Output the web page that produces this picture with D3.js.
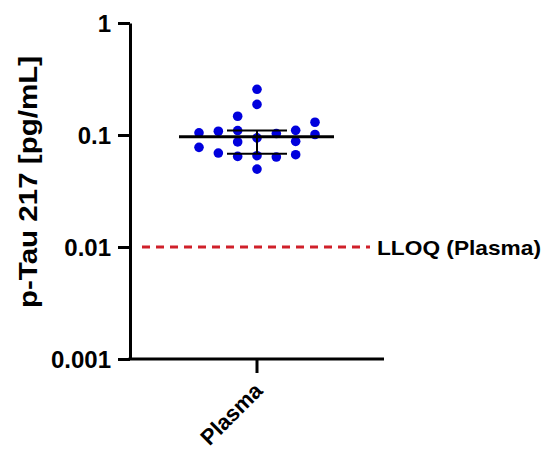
<!DOCTYPE html>
<html>
<head>
<meta charset="utf-8">
<script src="https://cdn.jsdelivr.net/npm/d3@7"></script>
<style>
body { margin: 0; background: #fff; }
text { font-family: Arial, "Liberation Sans", sans-serif; font-weight: bold; fill: #000; }
</style>
</head>
<body>
<script>
(function(){

//data
var category = "Plasma";
var values = [0.256, 0.1875, 0.147, 0.130, 0.1045, 0.108, 0.1096, 0.0942, 0.103, 0.110,
              0.101, 0.0776, 0.0867, 0.0878, 0.069, 0.0644, 0.0653, 0.0636, 0.0667, 0.0496];
//column slot of each point in the scatter (-3..3)
var slots = [0, 0, -1, 3, -3, -2, -1, 0, 1, 2,
             3, -3, -1, 2, -2, -1, 0, 1, 2, 0];
var median = 0.0967, q1 = 0.068, q3 = 0.1096;
var lloq = 0.01;
var yTicks = [1, 0.1, 0.01, 0.001];
var yTickLabels = ["1", "0.1", "0.01", "0.001"];

var width = 546, height = 455;
var svg = d3.select("body").append("svg")
    .attr("width", width)
    .attr("height", height);

var x0 = 130, xEnd = 384, yTop = 23, yBottom = 359;

var y = d3.scaleLog()
    .domain([0.001, 1])
    .range([yBottom, yTop]);

var x = d3.scalePoint()
    .domain([category])
    .range([257, 257]);

var jitter = d3.scaleLinear().domain([-3, 3]).range([-58, 58]);

//y axis
var yAxis = svg.append("g")
    .attr("transform", "translate(" + x0 + ",0)")
    .call(d3.axisLeft(y).tickValues(yTicks)
        .tickFormat(function(d, i){ return yTickLabels[i]; })
        .tickSize(12).tickPadding(7).tickSizeOuter(0));
yAxis.attr("font-size", 24);
yAxis.select(".domain").attr("stroke-width", 3);
yAxis.selectAll(".tick line").attr("stroke-width", 3);
yAxis.selectAll(".tick text")
    .style("font-size", "24px")
    .attr("dy", "0.36em");

//x axis
var xAxis = svg.append("g")
    .attr("transform", "translate(0," + yBottom + ")");
xAxis.append("line")
    .attr("x1", x0 - 1.5).attr("x2", xEnd)
    .attr("stroke", "#000").attr("stroke-width", 3);
xAxis.append("line")
    .attr("x1", x(category)).attr("x2", x(category))
    .attr("y1", 0).attr("y2", 14)
    .attr("stroke", "#000").attr("stroke-width", 3);
xAxis.append("text")
    .attr("transform", "translate(" + (x(category) + 7) + ",33) rotate(-45)")
    .attr("text-anchor", "end")
    .style("font-size", "22px")
    .text(category);

//y axis title
svg.append("text")
    .attr("transform", "translate(37,182) rotate(-90)")
    .attr("text-anchor", "middle")
    .attr("textLength", 252)
    .attr("lengthAdjust", "spacingAndGlyphs")
    .style("font-size", "26px")
    .text("p-Tau 217 [pg/mL]");

//LLOQ line
svg.append("line")
    .attr("x1", 142).attr("x2", 370)
    .attr("y1", y(lloq)).attr("y2", y(lloq))
    .attr("stroke", "#d0202a").attr("stroke-width", 3)
    .attr("stroke-dasharray", "8,6");
svg.append("text")
    .attr("x", 377).attr("y", y(lloq) + 8)
    .attr("textLength", 164)
    .attr("lengthAdjust", "spacingAndGlyphs")
    .style("font-size", "21px")
    .text("LLOQ (Plasma)");

//points
svg.selectAll(".pt")
    .data(values)
    .enter()
    .append("circle")
    .attr("class", "pt")
    .attr("cx", function(d, i){ return x(category) + jitter(slots[i]); })
    .attr("cy", function(d){ return y(d); })
    .attr("r", 4.8)
    .attr("fill", "#0000dd");

//median and interquartile range
var cx = x(category);
svg.append("line")
    .attr("x1", cx - 78).attr("x2", cx + 77)
    .attr("y1", y(median)).attr("y2", y(median))
    .attr("stroke", "#000").attr("stroke-width", 3);
svg.append("line")
    .attr("x1", cx).attr("x2", cx)
    .attr("y1", y(q3)).attr("y2", y(q1))
    .attr("stroke", "#000").attr("stroke-width", 2);
[q1, q3].forEach(function(q){
    svg.append("line")
        .attr("x1", cx - 30).attr("x2", cx + 30)
        .attr("y1", y(q)).attr("y2", y(q))
        .attr("stroke", "#000").attr("stroke-width", 2);
});

})();
</script>
</body>
</html>
